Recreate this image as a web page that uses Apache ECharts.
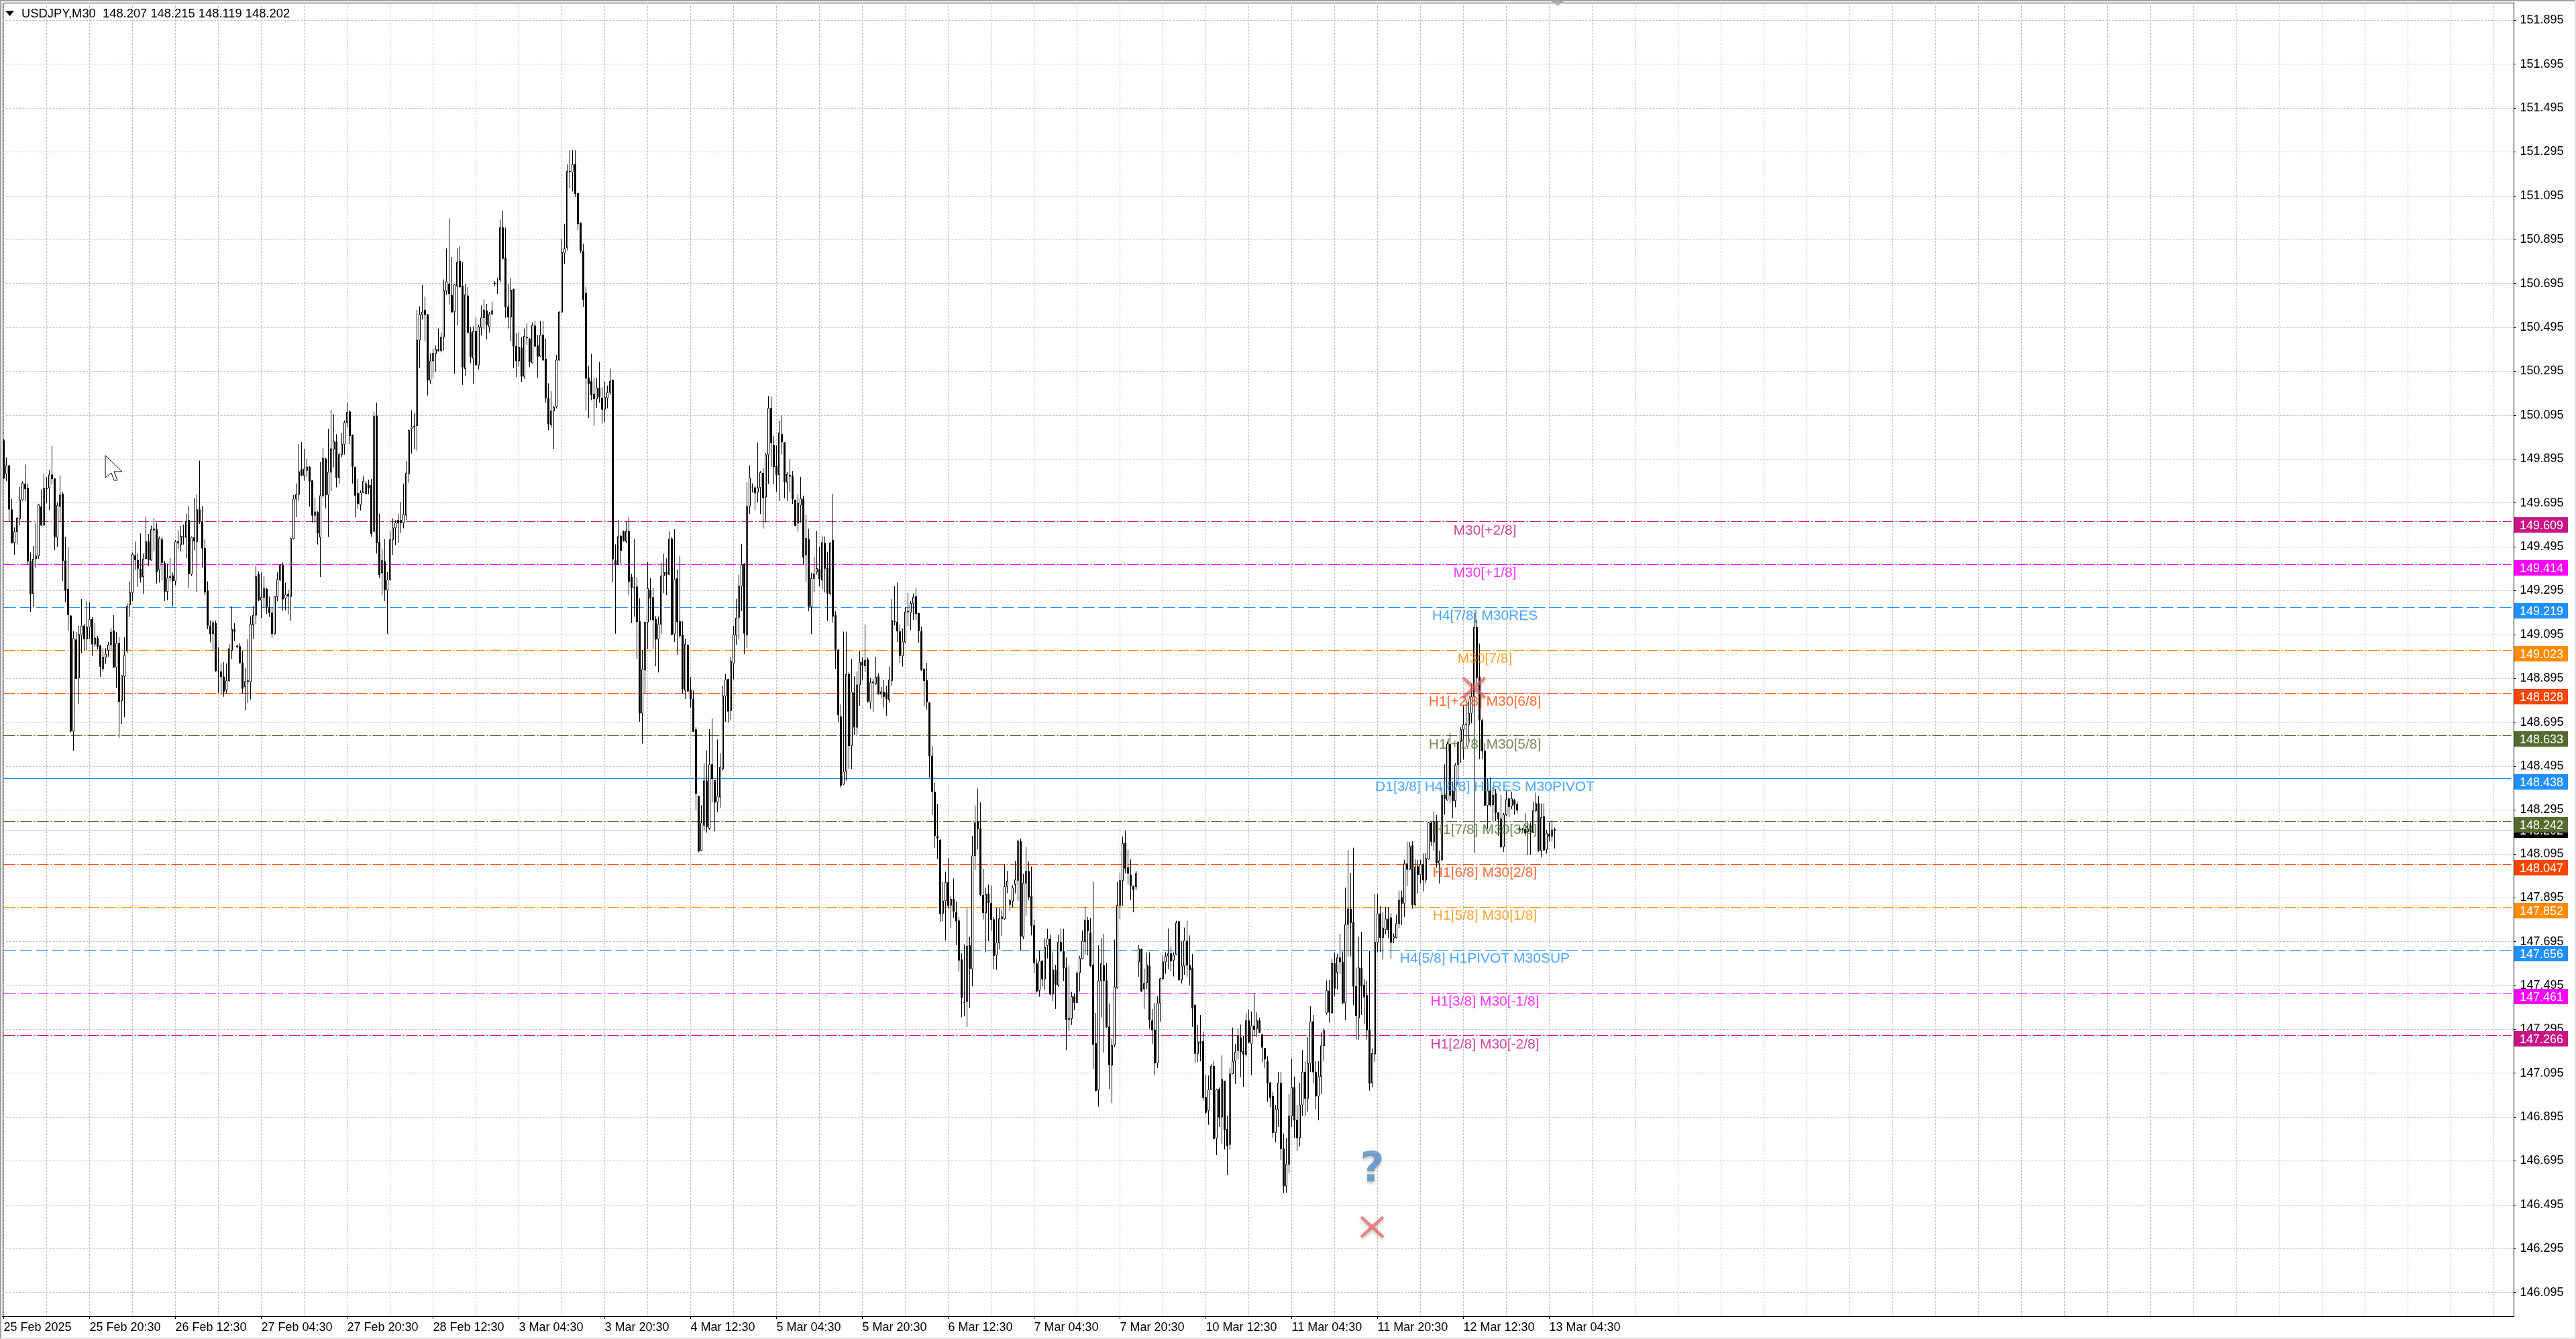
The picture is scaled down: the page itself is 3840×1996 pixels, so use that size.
<!DOCTYPE html>
<html>
<head>
<meta charset="utf-8">
<style>html,body{margin:0;padding:0;background:#fff}#c{width:3840px;height:1996px}</style>
<script src="https://cdn.jsdelivr.net/npm/echarts@6/dist/echarts.min.js"></script>
</head>
<body>
<div id="c"></div>
<script>
const opens = [
149.979,149.827,149.865,149.664,149.514,149.563,149.622,149.709,149.780,149.762,
149.429,149.281,149.441,149.453,149.677,149.593,149.762,149.764,149.823,149.805,
149.538,149.679,149.735,149.431,149.302,149.180,148.654,149.071,148.898,149.091,
149.134,149.075,149.129,149.164,149.051,149.077,149.043,148.939,148.990,149.022,
149.048,149.112,148.946,149.055,148.793,148.904,149.020,149.230,149.286,149.454,
149.433,149.393,149.359,149.441,149.518,149.434,149.576,149.573,149.390,149.528,
149.420,149.291,149.353,149.363,149.339,149.518,149.504,149.542,149.538,149.616,
149.370,149.536,149.518,149.664,149.609,149.488,149.296,149.134,149.098,149.146,
148.928,148.925,148.902,148.843,148.884,149.022,149.119,149.043,149.040,148.966,
148.858,148.884,148.878,149.139,149.183,149.370,149.252,149.264,149.302,149.219,
149.193,149.098,149.268,149.343,149.412,149.261,149.278,149.268,149.532,149.713,
149.733,149.847,149.820,149.843,149.859,149.796,149.638,149.652,149.538,149.728,
149.896,149.731,149.835,149.939,149.973,149.810,149.915,149.962,150.061,150.110,
150.005,149.857,149.738,149.687,149.741,149.736,149.776,149.776,149.565,150.092,
149.516,149.376,149.428,149.298,149.344,149.527,149.581,149.616,149.616,149.604,
149.639,149.827,150.033,150.040,150.047,150.437,150.553,150.574,150.553,150.254,
150.342,150.374,150.395,150.389,150.451,150.662,150.693,150.641,150.567,150.683,
150.797,150.683,150.307,150.639,150.472,150.354,150.477,150.323,150.495,150.539,
150.571,150.497,150.556,150.697,150.693,150.711,150.950,150.813,150.588,150.542,
150.669,150.409,150.342,150.402,150.272,150.451,150.442,150.333,150.502,150.412,
150.363,150.460,150.351,150.173,150.050,150.114,150.135,150.346,150.565,150.834,
150.859,151.205,151.203,151.238,151.106,150.971,150.843,150.651,150.265,150.249,
150.191,150.170,150.219,150.173,150.121,150.173,150.198,150.254,149.432,149.414,
149.543,149.564,149.520,149.565,149.356,149.309,149.312,149.154,148.736,148.933,
149.151,149.298,149.263,149.165,149.073,149.142,149.362,149.379,149.369,149.531,
149.097,149.350,149.155,149.092,148.840,149.047,148.843,148.801,148.661,148.358,
148.110,148.225,148.428,148.211,148.502,148.429,148.330,148.354,148.483,148.815,
148.890,148.748,148.963,149.092,149.173,149.315,149.416,149.092,149.679,149.764,
149.764,149.743,149.765,149.830,149.721,149.914,150.126,149.958,149.863,149.824,
150.007,149.970,149.788,149.821,149.816,149.707,149.603,149.684,149.712,149.458,
149.529,149.223,149.350,149.380,149.391,149.343,149.511,149.399,149.282,149.524,
149.182,149.024,148.720,148.412,148.471,148.914,148.588,148.829,148.672,148.865,
148.969,148.952,148.980,148.787,148.874,148.871,148.903,148.823,148.832,148.829,
148.798,148.885,149.155,149.152,149.108,148.997,149.061,149.201,149.195,149.237,
149.268,149.192,149.108,148.938,148.885,148.784,148.541,148.376,148.174,148.158,
147.824,147.880,147.964,147.861,147.888,147.829,147.790,147.612,147.419,147.422,
147.677,147.571,148.086,148.242,148.209,147.906,147.826,147.912,147.869,147.795,
147.633,147.690,147.798,147.798,147.947,147.864,147.878,147.955,147.974,148.151,
147.717,147.961,148.015,147.901,147.768,147.594,147.472,147.606,147.524,147.676,
147.706,147.455,147.564,147.497,147.692,147.652,147.575,147.339,147.343,147.444,
147.417,147.553,147.618,147.695,147.793,147.736,147.588,147.231,147.018,147.517,
147.585,147.517,147.306,147.131,147.224,147.485,147.860,147.973,148.144,148.032,
147.999,147.947,147.945,147.602,147.661,147.479,147.507,147.584,147.334,147.291,
147.141,147.414,147.526,147.602,147.630,147.640,147.610,147.636,147.786,147.520,
147.584,147.697,147.587,147.575,147.406,147.185,147.239,147.239,146.985,146.925,
147.020,147.126,146.799,147.021,146.895,147.059,146.839,146.770,147.092,147.150,
147.198,147.257,147.195,147.180,147.334,147.229,147.311,147.298,147.334,147.270,
147.208,147.149,147.051,146.989,146.824,146.93,147.05,146.75,146.58,146.68,
146.90,147.03,146.88,146.80,146.95,147.10,146.98,147.14,147.33,147.10,
146.99,147.08,147.22,147.370,147.470,147.370,147.596,147.554,147.621,147.602,
147.415,147.773,147.843,147.784,147.490,147.346,147.573,147.497,147.450,147.292,
147.051,147.182,147.691,147.822,147.713,147.750,147.798,147.804,147.710,147.713,
147.777,147.896,147.869,148.049,148.024,148.132,147.863,148.037,148.000,148.046,
147.975,148.070,148.236,148.149,148.243,148.052,148.067,148.364,148.340,148.594,
148.382,148.337,148.502,148.606,148.661,148.684,148.684,148.736,148.811,149.127,
148.902,148.703,148.564,148.316,148.382,148.318,148.370,148.282,148.255,148.127,
148.273,148.346,148.313,148.340,148.320,148.208,148.207,148.207,148.197,148.225,
148.192,148.291,148.324,148.110,148.265,148.115,148.185,148.175,148.207];
const closes = [
149.807,149.865,149.666,149.512,149.564,149.626,149.709,149.784,149.758,149.429,
149.279,149.439,149.453,149.687,149.593,149.762,149.758,149.823,149.805,149.538,
149.683,149.731,149.431,149.294,149.185,148.654,149.079,148.894,149.095,149.134,
149.075,149.129,149.164,149.051,149.079,149.040,148.949,148.992,149.006,149.048,
149.106,148.945,149.055,148.788,148.907,149.000,149.223,149.286,149.461,149.435,
149.396,149.355,149.439,149.518,149.435,149.573,149.571,149.380,149.534,149.423,
149.291,149.353,149.359,149.339,149.518,149.512,149.542,149.538,149.611,149.372,
149.538,149.522,149.664,149.609,149.488,149.288,149.136,149.097,149.149,148.929,
148.927,148.902,148.834,148.884,149.030,149.119,149.109,149.039,148.965,148.849,
148.880,148.880,149.142,149.183,149.359,149.251,149.264,149.305,149.220,149.193,
149.098,149.268,149.345,149.412,149.256,149.276,149.270,149.532,149.713,149.733,
149.837,149.819,149.850,149.859,149.792,149.638,149.654,149.557,149.728,149.899,
149.731,149.835,149.942,149.975,149.810,149.915,149.962,150.061,150.108,150.001,
149.861,149.729,149.692,149.741,149.794,149.783,149.762,149.555,150.089,149.513,
149.367,149.432,149.298,149.344,149.527,149.581,149.604,149.604,149.604,149.643,
149.831,150.026,150.040,150.045,150.437,150.553,150.565,150.553,150.254,150.342,
150.377,150.395,150.389,150.451,150.662,150.704,150.648,150.565,150.690,150.792,
150.679,150.314,150.644,150.472,150.360,150.477,150.324,150.497,150.539,150.574,
150.507,150.556,150.571,150.695,150.692,150.950,150.809,150.588,150.542,150.665,
150.409,150.342,150.405,150.272,150.454,150.447,150.337,150.504,150.409,150.363,
150.460,150.346,150.173,150.054,150.114,150.131,150.346,150.565,150.837,150.855,
151.206,151.206,151.238,151.105,150.967,150.845,150.620,150.263,150.238,150.187,
150.170,150.219,150.177,150.121,150.175,150.198,150.249,149.439,149.414,149.541,
149.478,149.520,149.565,149.337,149.309,149.307,149.154,148.736,148.936,149.151,
149.305,149.260,149.161,149.073,149.142,149.362,149.379,149.369,149.530,149.094,
149.346,149.153,149.089,148.846,149.050,148.837,148.801,148.653,148.370,148.107,
148.236,148.428,148.219,148.502,148.437,148.330,148.358,148.490,148.815,148.890,
148.745,148.973,149.094,149.170,149.315,149.413,149.100,149.679,149.810,149.763,
149.740,149.765,149.833,149.718,149.914,150.126,149.970,149.860,149.824,150.014,
149.972,149.791,149.826,149.816,149.712,149.592,149.693,149.715,149.447,149.533,
149.222,149.350,149.371,149.396,149.349,149.514,149.396,149.282,149.511,149.178,
149.024,148.728,148.407,148.469,148.913,148.588,148.833,148.672,148.865,148.969,
148.955,148.977,148.790,148.876,148.879,148.900,148.826,148.834,148.812,148.801,
148.888,149.159,149.152,149.110,148.999,149.061,149.198,149.198,149.237,149.265,
149.189,149.111,148.932,148.885,148.787,148.541,148.379,148.177,148.166,147.822,
147.880,147.964,147.858,147.888,147.833,147.788,147.610,147.440,147.417,147.674,
147.571,148.086,148.236,148.209,147.910,147.826,147.911,147.871,147.795,147.630,
147.690,147.799,147.808,147.946,147.970,147.882,147.940,147.977,148.153,147.719,
147.961,148.015,147.898,147.768,147.597,147.468,147.607,147.524,147.669,147.708,
147.455,147.566,147.499,147.692,147.652,147.574,147.339,147.345,147.445,147.417,
147.551,147.618,147.697,147.793,147.743,147.584,147.226,147.015,147.515,147.594,
147.517,147.305,147.133,147.221,147.489,147.860,147.973,148.142,148.028,148.006,
147.950,147.932,148.006,147.661,147.468,147.504,147.588,147.337,147.292,147.141,
147.414,147.526,147.602,147.628,147.640,147.607,147.633,147.780,147.520,147.584,
147.700,147.587,147.566,147.391,147.185,147.236,147.231,146.983,146.916,147.019,
147.126,146.796,147.020,146.894,147.067,146.837,146.764,147.092,147.149,147.190,
147.265,147.193,147.182,147.334,147.236,147.311,147.293,147.334,147.280,147.213,
147.159,147.049,146.982,146.824,146.93,147.05,146.75,146.58,146.68,146.90,
147.03,146.88,146.80,146.95,147.10,146.98,147.14,147.33,147.10,146.99,
147.08,147.22,147.29,147.473,147.373,147.596,147.482,147.621,147.602,147.415,
147.772,147.843,147.781,147.490,147.357,147.575,147.491,147.442,147.292,147.048,
147.185,147.691,147.822,147.713,147.757,147.798,147.748,147.691,147.718,147.777,
147.884,147.869,148.049,148.024,148.128,147.863,148.035,148.000,148.046,147.975,
148.074,148.237,148.151,148.241,148.053,148.064,148.362,148.346,148.596,148.362,
148.336,148.499,148.603,148.661,148.684,148.687,148.736,148.811,149.127,148.899,
148.703,148.564,148.316,148.382,148.318,148.362,148.283,148.253,148.127,148.273,
148.342,148.310,148.347,148.318,148.294,148.206,148.204,148.189,148.207,148.197,
148.291,148.324,148.110,148.261,148.112,148.189,148.175,148.204,148.202];
const lows = [
149.804,149.794,149.611,149.510,149.459,149.505,149.593,149.705,149.703,149.412,
149.197,149.218,149.398,149.439,149.589,149.591,149.693,149.662,149.779,149.479,
149.495,149.611,149.339,149.241,149.112,148.648,148.565,148.892,148.778,149.010,
149.022,149.022,149.073,148.997,149.037,149.027,148.902,148.925,148.961,148.994,
149.022,148.943,148.851,148.624,148.687,148.717,149.010,149.175,149.248,149.388,
149.312,149.332,149.281,149.439,149.406,149.431,149.474,149.327,149.332,149.342,
149.248,149.251,149.335,149.223,149.319,149.485,149.474,149.505,149.443,149.309,
149.362,149.479,149.288,149.599,149.400,149.274,149.119,149.059,149.022,148.925,
148.829,148.819,148.811,148.825,148.880,148.982,149.065,149.032,148.963,148.825,
148.748,148.783,148.799,149.073,149.142,149.246,149.170,149.215,149.188,149.175,
149.078,149.095,149.246,149.337,149.203,149.205,149.187,149.157,149.528,149.630,
149.703,149.817,149.796,149.815,149.678,149.606,149.606,149.505,149.357,149.718,
149.670,149.540,149.749,149.857,149.766,149.780,149.903,149.915,150.038,149.962,
149.783,149.629,149.669,149.660,149.739,149.734,149.734,149.541,149.563,149.464,
149.353,149.274,149.247,149.098,149.340,149.458,149.502,149.513,149.558,149.579,
149.616,149.787,149.920,149.941,149.933,150.310,150.530,150.430,150.184,150.237,
150.266,150.293,150.384,150.381,150.389,150.644,150.599,150.560,150.284,150.504,
150.679,150.233,150.272,150.468,150.331,150.237,150.319,150.303,150.458,150.486,
150.440,150.472,150.553,150.683,150.648,150.700,150.806,150.539,150.490,150.433,
150.310,150.268,150.317,150.247,150.261,150.416,150.314,150.331,150.405,150.266,
150.360,150.342,150.152,150.026,150.036,149.941,150.126,150.342,150.562,150.785,
150.846,151.129,151.115,151.089,150.939,150.834,150.588,150.117,150.082,150.163,
150.047,150.128,150.152,150.056,150.064,150.126,150.187,149.333,149.098,149.411,
149.414,149.520,149.511,149.274,149.147,149.177,148.982,148.697,148.597,148.826,
149.028,149.160,149.028,148.950,148.922,149.098,149.283,149.274,149.365,149.092,
149.061,149.002,149.078,148.826,148.801,148.833,148.762,148.651,148.295,148.102,
148.107,148.202,148.191,148.205,148.330,148.197,148.286,148.306,148.474,148.697,
148.692,148.703,148.889,149.047,149.071,149.201,149.005,149.033,149.645,149.742,
149.662,149.696,149.644,149.578,149.606,149.782,149.860,149.782,149.746,149.704,
149.916,149.715,149.704,149.743,149.690,149.588,149.564,149.606,149.413,149.335,
149.201,149.097,149.287,149.368,149.315,149.301,149.287,149.157,149.273,149.150,
148.938,148.695,148.395,148.409,148.429,148.482,148.482,148.637,148.636,148.770,
148.887,148.924,148.784,148.756,148.742,148.865,148.820,148.806,148.762,148.725,
148.784,148.862,149.136,149.061,148.966,148.949,149.058,149.134,149.114,149.161,
149.161,149.057,148.929,148.767,148.753,148.443,148.272,148.121,148.071,147.785,
147.788,147.700,147.846,147.755,147.803,147.679,147.558,147.350,147.355,147.305,
147.391,147.491,148.022,148.115,147.901,147.795,147.646,147.697,147.743,147.569,
147.566,147.659,147.721,147.794,147.916,147.834,147.849,147.914,147.880,147.656,
147.705,147.813,147.885,147.723,147.552,147.463,147.444,147.491,147.476,147.618,
147.450,147.424,147.388,147.489,147.646,147.515,147.200,147.288,147.315,147.382,
147.414,147.468,147.615,147.636,147.633,147.579,147.113,147.012,146.943,147.350,
147.189,147.301,147.023,146.958,147.213,147.479,147.798,147.858,148.006,147.955,
147.884,147.829,147.929,147.535,147.466,147.388,147.479,147.298,147.227,147.087,
147.118,147.330,147.520,147.548,147.569,147.562,147.536,147.633,147.517,147.504,
147.543,147.535,147.495,147.305,147.141,147.146,147.149,146.970,146.909,146.860,
147.018,146.794,146.721,146.850,146.773,146.747,146.629,146.747,147.090,147.046,
147.157,147.077,147.033,147.170,147.231,147.085,147.265,147.260,147.278,147.144,
147.118,146.964,146.940,146.801,146.78,146.85,146.70,146.548,146.55,146.64,
146.85,146.80,146.74,146.76,146.90,146.90,146.92,147.10,147.05,146.93,
146.88,147.00,147.15,147.361,147.325,147.365,147.445,147.476,147.548,147.409,
147.336,147.627,147.627,147.404,147.248,147.248,147.360,147.319,147.248,147.016,
147.032,147.147,147.647,147.647,147.613,147.729,147.709,147.617,147.688,147.710,
147.757,147.770,147.808,147.948,148.023,147.845,147.855,147.914,147.959,147.923,
147.959,148.068,148.132,148.110,148.031,147.959,148.062,148.273,148.337,148.325,
148.258,148.307,148.400,148.509,148.524,148.582,148.606,148.690,148.100,148.870,
148.527,148.527,148.313,148.207,148.310,148.243,148.243,148.177,148.120,148.104,
148.267,148.261,148.298,148.273,148.279,148.192,148.197,148.177,148.090,148.090,
148.189,148.285,148.104,148.080,148.110,148.096,148.152,148.152,148.119];
const highs = [
149.987,149.902,149.865,149.713,149.583,149.630,149.768,149.794,149.870,149.784,
149.469,149.498,149.605,149.691,149.756,149.829,149.813,149.845,149.955,149.807,
149.698,149.820,149.746,149.540,149.492,149.183,149.109,149.106,149.134,149.256,
149.144,149.248,149.241,149.175,149.146,149.088,149.048,149.032,149.032,149.061,
149.124,149.183,149.106,149.083,148.910,149.083,149.236,149.337,149.469,149.518,
149.464,149.555,149.464,149.632,149.553,149.591,149.627,149.603,149.542,149.542,
149.431,149.418,149.443,149.378,149.526,149.571,149.591,149.596,149.646,149.679,
149.542,149.717,149.733,149.888,149.680,149.528,149.337,149.159,149.159,149.159,
149.036,148.963,148.969,148.963,149.053,149.223,149.146,149.049,149.055,149.020,
148.943,149.073,149.177,149.225,149.406,149.383,149.378,149.362,149.307,149.268,
149.220,149.271,149.378,149.416,149.424,149.332,149.299,149.535,149.731,149.784,
149.963,149.972,149.942,149.896,149.863,149.799,149.719,149.658,149.881,149.945,
149.900,150.033,150.120,150.100,150.008,149.924,150.012,150.071,150.152,150.117,
150.005,149.861,149.804,149.752,149.818,149.794,149.801,149.804,150.110,150.152,
149.646,149.485,149.529,149.379,149.565,149.625,149.616,149.646,149.699,149.783,
149.885,150.029,150.117,150.103,150.574,150.591,150.688,150.635,150.556,150.377,
150.398,150.412,150.490,150.472,150.714,150.855,150.992,150.816,150.694,150.855,
150.864,150.792,150.694,150.679,150.497,150.500,150.542,150.507,150.595,150.623,
150.602,150.565,150.613,150.707,150.722,150.987,151.027,150.950,150.693,150.722,
150.671,150.468,150.472,150.451,150.490,150.514,150.447,150.518,150.525,150.461,
150.525,150.525,150.444,150.240,150.205,150.138,150.370,150.570,150.899,150.967,
151.238,151.303,151.303,151.303,151.106,150.974,150.876,150.679,150.319,150.375,
150.265,150.265,150.338,150.222,150.249,150.230,150.307,150.258,149.506,149.616,
149.548,149.569,149.608,149.629,149.372,149.530,149.356,149.260,149.024,149.154,
149.425,149.351,149.309,149.179,149.177,149.423,149.463,149.442,149.565,149.539,
149.575,149.392,149.452,149.155,149.075,149.047,148.901,148.840,148.672,148.358,
148.317,148.507,148.566,148.664,148.711,148.430,148.616,148.553,148.861,148.915,
148.893,148.994,149.134,149.257,149.368,149.508,149.420,149.788,149.866,149.784,
149.774,149.970,149.840,149.855,149.923,150.182,150.179,150.000,149.958,150.070,
150.093,149.970,149.835,149.894,149.840,149.710,149.735,149.814,149.728,149.640,
149.577,149.377,149.449,149.567,149.494,149.543,149.542,149.472,149.517,149.737,
149.201,149.029,148.776,149.108,149.108,148.924,148.983,148.904,148.927,149.019,
148.991,149.141,148.991,148.896,148.893,148.994,148.918,148.857,148.887,148.861,
148.949,149.257,149.315,149.332,149.141,149.122,149.220,149.285,149.248,149.282,
149.308,149.192,149.131,148.938,148.966,148.787,148.586,148.418,148.323,148.161,
147.968,148.013,148.076,147.903,147.983,147.878,147.806,147.641,147.682,147.846,
147.717,148.176,148.315,148.393,148.331,148.027,147.940,147.955,147.950,147.806,
147.849,147.849,147.839,148.048,148.017,147.888,147.951,148.064,148.158,148.164,
148.004,148.125,148.061,148.037,147.794,147.615,147.654,147.610,147.710,147.753,
147.726,147.646,147.588,147.726,147.754,147.753,147.623,147.584,147.466,147.459,
147.561,147.630,147.745,147.855,147.808,147.803,147.968,147.369,147.678,147.710,
147.730,147.597,147.412,147.253,147.704,147.968,148.009,148.174,148.200,148.115,
148.071,147.950,148.017,147.678,147.664,147.571,147.646,147.646,147.388,147.414,
147.445,147.530,147.633,147.646,147.754,147.672,147.646,147.790,147.790,147.697,
147.759,147.790,147.723,147.638,147.408,147.314,147.360,147.285,147.087,147.084,
147.136,147.149,147.023,147.030,147.176,147.061,146.902,147.118,147.303,147.229,
147.298,147.316,147.266,147.369,147.386,147.376,147.461,147.372,147.347,147.275,
147.208,147.172,147.054,147.010,146.95,147.10,147.10,146.82,146.80,147.00,
147.16,147.08,146.95,147.05,147.20,147.15,147.26,147.40,147.36,147.15,
147.15,147.28,147.30,147.518,147.520,147.615,147.645,147.639,147.730,147.650,
147.941,148.112,148.008,148.123,147.576,147.718,147.740,147.524,147.517,147.654,
147.207,147.912,147.912,147.858,147.828,147.852,147.852,147.825,147.732,147.818,
147.927,147.927,148.068,148.150,148.150,148.153,148.071,148.068,148.068,148.096,
148.098,148.241,148.243,148.288,148.273,148.110,148.400,148.503,148.606,148.649,
148.424,148.509,148.608,148.672,148.769,148.799,148.787,148.872,149.194,149.160,
149.053,148.710,148.600,148.437,148.444,148.400,148.391,148.285,148.364,148.282,
148.382,148.352,148.378,148.346,148.334,148.219,148.213,148.279,148.243,148.237,
148.334,148.374,148.358,148.325,148.325,148.204,148.241,148.249,148.215];

const timeLabels = ['25 Feb 2025','25 Feb 20:30','26 Feb 12:30','27 Feb 04:30','27 Feb 20:30','28 Feb 12:30','3 Mar 04:30','3 Mar 20:30','4 Mar 12:30','5 Mar 04:30','5 Mar 20:30','6 Mar 12:30','7 Mar 04:30','7 Mar 20:30','10 Mar 12:30','11 Mar 04:30','11 Mar 20:30','12 Mar 12:30','13 Mar 04:30'];
const priceTicks = [151.895,151.695,151.495,151.295,151.095,150.895,150.695,150.495,150.295,150.095,149.895,149.695,149.495,149.295,149.095,148.895,148.695,148.495,148.295,148.095,147.895,147.695,147.495,147.295,147.095,146.895,146.695,146.495,146.295,146.095];
const levelValues = [149.609,149.414,149.219,149.023,148.828,148.633,148.438,148.242,148.047,147.852,147.656,147.461,147.266];
const levelNames = ['M30[+2/8]','M30[+1/8]','H4[7/8] M30RES','M30[7/8]','H1[+2/8] M30[6/8]','H1[+1/8] M30[5/8]','D1[3/8] H4[6/8] H1RES M30PIVOT','H1[7/8] M30[3/8]','H1[6/8] M30[2/8]','H1[5/8] M30[1/8]','H4[5/8] H1PIVOT M30SUP','H1[3/8] M30[-1/8]','H1[2/8] M30[-2/8]'];
const levelColors = ['#C71585','#FF00FF','#1E90FF','#FF8C00','#FF4500','#556B2F','#1E90FF','#556B2F','#FF4500','#FF8C00','#1E90FF','#FF00FF','#C71585'];
const levelStyles = ['dd','dd','da','dd','dd','dd','so','dd','dd','dd','da','dd','dd'];
const lastPrice = 148.202;
const crossMarks = [[548,148.853],[510,146.394]];
const helpMark = [[510,146.65]];
const barCount = 936, labelEvery = 32, labelIndexCenter = 552;

const FONT = '"Liberation Sans", Arial, sans-serif';
const categories = Array.from({length: barCount}, (_, i) => (i % labelEvery === 0 && timeLabels[i / labelEvery]) || '');
const ohlc = opens.map((o, i) => [o, closes[i], lows[i], highs[i]]);
const dashOf = s => s === 'dd' ? [17, 3, 2, 3] : s === 'da' ? [18, 6] : null;
const lineRows = [[lastPrice, '#c0c0c0', null, '#000', 0]].concat(levelValues.map((v, i) => [v, levelColors[i], dashOf(levelStyles[i]), levelColors[i], 5]));
const crossPath = 'path://M3 0 L18 13 L33 0 L36 3 L22 16.5 L36 30 L33 33 L18 20 L3 33 L0 30 L14 16.5 L0 3 Z';

const chart = echarts.init(document.getElementById('c'), null, {renderer: 'canvas', width: 3840, height: 1996});
chart.setOption({
  animation: false,
  backgroundColor: '#fff',
  title: {
    text: 'USDJPY,M30\u00a0\u00a0148.207\u00a0148.215\u00a0148.119\u00a0148.202',
    left: 27, top: 7, textStyle: {fontFamily: FONT, fontSize: 18.35, fontWeight: 'normal', color: '#000'}
  },
  grid: {left: 3.5, top: 4, width: 3744, height: 1958, containLabel: false},
  xAxis: {
    type: 'category', data: categories, boundaryGap: true,
    axisLine: {show: true, lineStyle: {color: '#000', width: 1}},
    axisTick: {show: true, interval: i => i % labelEvery === 0 && !!categories[i], length: 4, alignWithLabel: true, lineStyle: {color: '#000'}},
    axisLabel: {show: true, interval: labelEvery - 1, align: 'left', margin: 8, color: '#000', fontFamily: FONT, fontSize: 18, hideOverlap: false},
    splitLine: {show: true, interval: labelEvery / 2 - 1, alignWithLabel: true, lineStyle: {color: '#c0c0c0', width: 1, type: [3, 2]}}
  },
  yAxis: {
    type: 'value', position: 'right', min: 145.987, max: 151.9754, scale: true,
    axisLine: {show: true, onZero: false, lineStyle: {color: '#000', width: 1}},
    axisTick: {show: true, length: 3, customValues: priceTicks, lineStyle: {color: '#000'}},
    axisLabel: {show: true, margin: 9, color: '#000', fontFamily: FONT, fontSize: 18, padding: [2, 0, 0, 0], customValues: priceTicks, formatter: v => v.toFixed(3)},
    splitLine: {show: true, lineStyle: {color: '#c0c0c0', width: 1, type: [3, 2]}}
  },
  series: [
    {
      type: 'custom', z: 1, silent: true, clip: false,
      data: lineRows.map((r, i) => [i, r[0]]),
      encode: {x: 0, y: 1},
      renderItem: (params, api) => {
        const row = lineRows[params.dataIndex];
        const left = api.coord([0, row[0]]);
        const right = api.coord([barCount - 1, row[0]]);
        const y = Math.round(left[1] - 0.5) + 0.5;
        return {
          type: 'group',
          children: [
            {
              type: 'line',
              shape: {x1: left[0], y1: y, x2: right[0] - 2, y2: y},
              style: {stroke: row[1], lineWidth: 1, lineDash: row[2] || undefined, fill: null}
            },
            {
              type: 'rect',
              shape: {x: right[0] + 2.5, y: Math.round(y + row[4] - 11.5), width: 80, height: 23},
              style: {fill: row[3]}
            },
            {
              type: 'text',
              style: {text: row[0].toFixed(3), x: right[0] + 10.5, y: Math.round(y + row[4]) + 1, align: 'left', verticalAlign: 'middle', fill: '#fff', font: '18px "Liberation Sans", Arial, sans-serif'}
            }
          ]
        };
      }
    },
    {
      type: 'candlestick', data: ohlc, barWidth: 2, z: 3, clip: false,
      itemStyle: {color: '#fff', color0: '#000', borderColor: '#000', borderColor0: '#000', borderColorDoji: '#000', borderWidth: 1}
    },
    {
      type: 'scatter', symbolSize: 1, z: 6, silent: true,
      itemStyle: {color: 'transparent'},
      data: levelValues.map((v, i) => ({
        value: [labelIndexCenter, v],
        label: {show: true, position: 'bottom', distance: 2, formatter: levelNames[i], color: levelColors[i], fontFamily: FONT, fontSize: 21}
      }))
    },
    {
      type: 'scatter', symbol: crossPath, symbolSize: [36, 33], z: 7, silent: true, data: crossMarks,
      itemStyle: {color: 'rgba(233,88,92,0.85)', shadowColor: 'rgba(0,0,0,0.3)', shadowBlur: 4, shadowOffsetY: 3}
    },
    {
      type: 'scatter', symbolSize: 1, z: 7, silent: true, data: helpMark, itemStyle: {color: 'transparent'},
      label: {show: true, position: 'inside', formatter: '?', color: '#5B92C4', fontFamily: '"DejaVu Sans", sans-serif', fontWeight: 'bold', fontSize: 62, textShadowColor: 'rgba(0,0,0,0.3)', textShadowBlur: 4, textShadowOffsetY: 3}
    }
  ],
  graphic: [
    {type: 'rect', shape: {x: 0, y: 0, width: 3840, height: 2}, style: {fill: '#a0a0a0'}, silent: true},
    {type: 'rect', shape: {x: 0, y: 0, width: 2, height: 1996}, style: {fill: '#a0a0a0'}, silent: true},
    {type: 'rect', shape: {x: 0, y: 1994, width: 3840, height: 2}, style: {fill: '#e0e0e0'}, silent: true},
    {type: 'rect', shape: {x: 3838, y: 0, width: 2, height: 1996}, style: {fill: '#e0e0e0'}, silent: true},
    {type: 'rect', shape: {x: 4, y: 4, width: 3743, height: 1}, style: {fill: '#000'}, silent: true},
    {type: 'rect', shape: {x: 4, y: 4, width: 1, height: 1958}, style: {fill: '#000'}, silent: true},
    {type: 'polygon', shape: {points: [[8, 16], [21, 16], [14.5, 24]]}, style: {fill: '#000'}, silent: true},
    {type: 'polygon', shape: {points: [[2313, 2], [2331, 2], [2322, 9]]}, style: {fill: '#b0b0b0'}, silent: true},
    {type: 'polygon', shape: {points: [[157, 679], [157, 712], [166, 705], [170, 716], [175, 716], [170, 703], [182, 703]]}, style: {fill: '#fff', stroke: '#000', lineWidth: 1}, silent: true}
  ]
});
</script>
</body>
</html>
